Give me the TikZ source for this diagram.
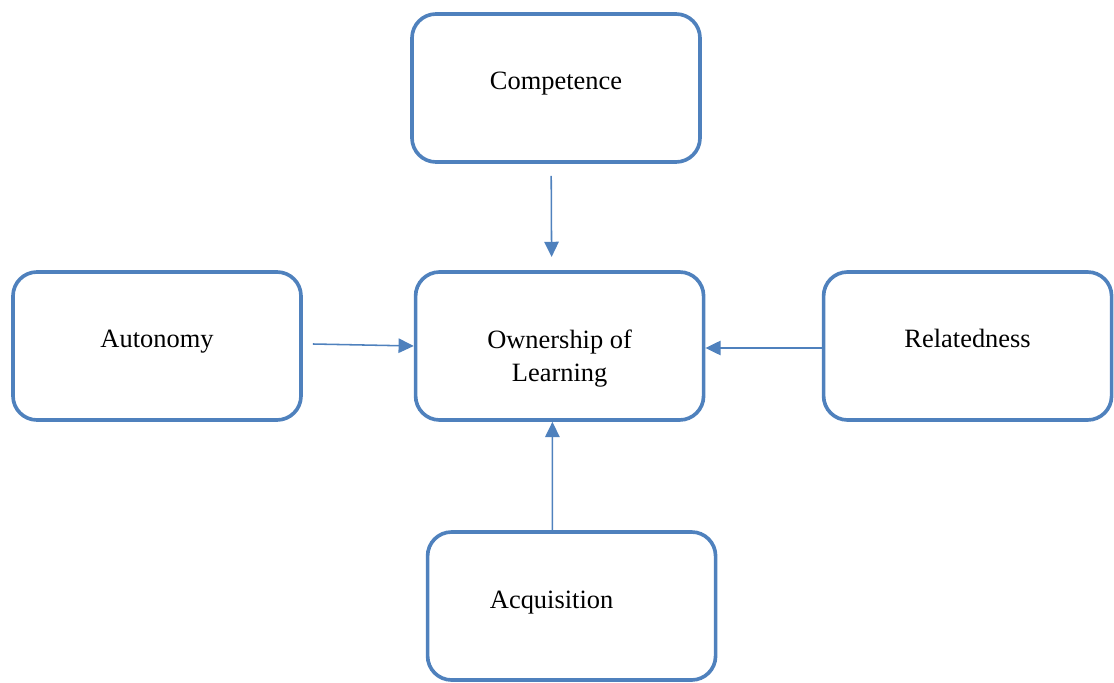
\documentclass[tikz,border=0pt]{standalone}
\usepackage{fontspec}
\setmainfont{Liberation Serif}
\usetikzlibrary{arrows.meta}
\definecolor{boxblue}{RGB}{79,129,189}
\tikzset{
  box/.style={draw=boxblue, line width=2.6pt, rounded corners=0.6cm,
    minimum width=7.2cm, minimum height=3.7cm, inner sep=0pt,
    align=center, font=\fontsize{18.8}{23.5}\selectfont},
  oneline/.style={box, text height=0.45cm, text depth=0.35cm},
  link/.style={draw=boxblue, line width=1.1pt,
    -{Triangle[length=0.38cm, width=0.36cm]}}
}
\begin{document}
\begin{tikzpicture}
      \useasboundingbox (0,0) rectangle (27.85,17.05);
      \draw
        (13.9,14.85) node[oneline] (comp){Competence}
        (3.925,8.4) node[oneline] (aut){Autonomy}
        (13.99,8.4) node[box] (own){\rule{0pt}{1.1cm}Ownership of\\Learning}
        (24.19,8.4) node[oneline] (rel){Relatedness}
        (14.29,1.9) node[oneline] (acq){Acquisition\hspace*{1cm}};
      \begin{scope}[link]
        \draw ([xshift=-0.12cm,yshift=-0.3cm]comp.south) to ([xshift=-0.2cm,yshift=0.33cm]own.north);
        \draw ([xshift=0.25cm,yshift=0.05cm]aut.east) to (own.west);
        \draw ([yshift=-0.05cm]rel.west) to ([yshift=-0.05cm]own.east);
        \draw ([xshift=-0.48cm]acq.north) to ([xshift=-0.18cm]own.south);
      \end{scope}
    \end{tikzpicture}
\end{document}
